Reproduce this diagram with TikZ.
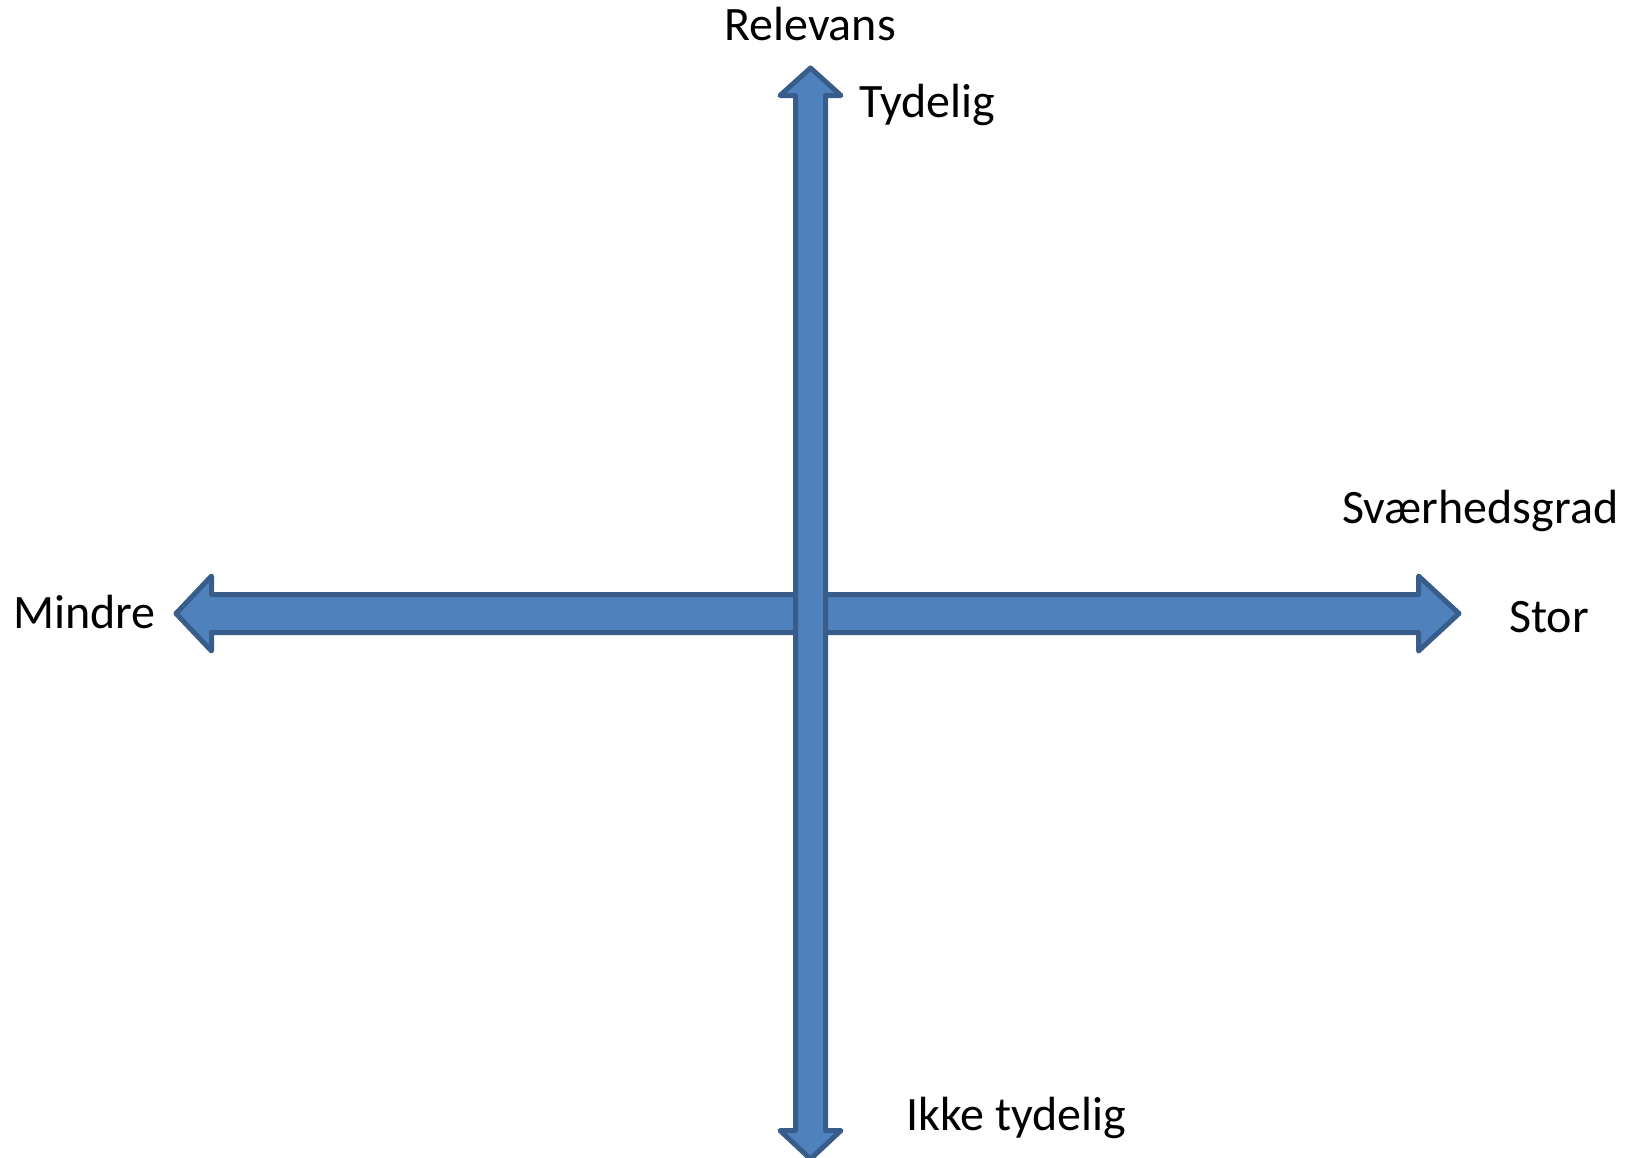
\documentclass[tikz,border=0pt]{standalone}
\usepackage{fontspec}
\setmainfont{Carlito}
\definecolor{arrfill}{HTML}{4F81BD}
\definecolor{arrline}{HTML}{385D8A}
\begin{document}
\begin{tikzpicture}[x=1pt,y=-1pt,
  axisarrow/.style={fill=arrfill,draw=arrline,line width=5pt,line join=round},
  lbl/.style={anchor=base west,inner sep=0pt,font=\fontsize{48}{52}\selectfont}]
\useasboundingbox (0,0) rectangle (1635,1157);
% horizontal double arrow (centre y = 613.5)
\draw[axisarrow] (176,613.5) -- (211.5,576) -- (211.5,594.5) -- (1418.5,594.5)
  -- (1418.5,576) -- (1459,613.5) -- (1418.5,651) -- (1418.5,632.5)
  -- (211.5,632.5) -- (211.5,651) -- cycle;
% vertical double arrow (centre x = 810.5)
\draw[axisarrow] (810.5,68) -- (841,95.5) -- (825.5,95.5) -- (825.5,1130.5)
  -- (841,1130.5) -- (810.5,1159) -- (780,1130.5) -- (795.5,1130.5)
  -- (795.5,95.5) -- (780,95.5) -- cycle;
\node[lbl] (relevans) at (724,40) {Relevans};
\node[lbl] (tydelig) at (859,117) {Tydelig};
\node[lbl] (svaer) at (1342,523) {Sværhedsgrad};
\node[lbl] (stor) at (1509,632) {Stor};
\node[lbl] (mindre) at (13,628) {Mindre};
\node[lbl] (ikke) at (906,1130) {Ikke tydelig};
\end{tikzpicture}
\end{document}
